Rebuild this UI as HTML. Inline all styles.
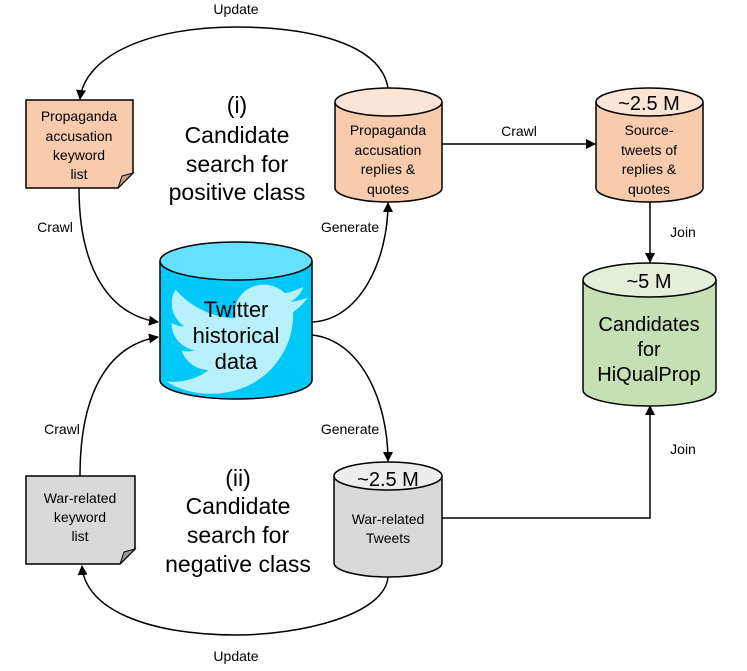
<!DOCTYPE html>
<html><head><meta charset="utf-8"><style>
html,body{margin:0;padding:0;background:#fff;}
svg{display:block;font-family:"Liberation Sans",Arial,sans-serif;}
</style></head><body>
<svg width="747" height="671" viewBox="0 0 747 671" xmlns="http://www.w3.org/2000/svg">
<defs>
<marker id="a" markerWidth="10" markerHeight="10" refX="9" refY="5" orient="auto" markerUnits="userSpaceOnUse">
<path d="M0,0 L10,5 L0,10 z" fill="#000"/></marker>
</defs>
<g fill="none" stroke="#000" stroke-width="1.5">
<path d="M388,88 C380,40 300,27 236,27 C150,27 85,55 80,99" marker-end="url(#a)"/>
<path d="M79,188 C79,270 110,315 158,322" marker-end="url(#a)"/>
<path d="M80,476 C80,390 110,345 158,337" marker-end="url(#a)"/>
<path d="M312,322 C360,320 388,260 388,203" marker-end="url(#a)"/>
<path d="M312,335 C360,340 388,400 388,461" marker-end="url(#a)"/>
<path d="M442,144 L595,144" marker-end="url(#a)"/>
<path d="M650,202 L650,262" marker-end="url(#a)"/>
<path d="M442,518 L650,518 L650,406" marker-end="url(#a)"/>
<path d="M388,577 C385,615 300,635 236,635 C150,635 85,610 82,566" marker-end="url(#a)"/>
</g>

<path d="M26,100 L133,100 L133,173 L118,188 L26,188 Z" fill="#f8cbad" stroke="#000" stroke-width="1.5"/>
<path d="M133,173 L122,176 L118,188 Z" fill="#c9a088" stroke="#000" stroke-width="1"/>
<g font-size="14" text-anchor="middle" fill="#000">
<text x="79" y="121">Propaganda</text><text x="79" y="141">accusation</text><text x="79" y="160">keyword</text><text x="79" y="179">list</text>
</g>

<path d="M26,476 L135,476 L135,549 L120,564 L26,564 Z" fill="#d9d9d9" stroke="#000" stroke-width="1.5"/>
<path d="M135,549 L124,552 L120,564 Z" fill="#9a9a9a" stroke="#000" stroke-width="1"/>
<g font-size="14" text-anchor="middle" fill="#000">
<text x="80" y="503">War-related</text><text x="80" y="522">keyword</text><text x="80" y="541">list</text>
</g>

<path d="M335,102 L335,188 A53.5,14 0 0 0 442,188 L442,102" fill="#f8cbad" stroke="#000" stroke-width="1.5"/>
<ellipse cx="388.5" cy="102" rx="53.5" ry="14" fill="#fce4d6" stroke="#000" stroke-width="1.5"/>
<g font-size="14" text-anchor="middle">
<text x="388" y="135">Propaganda</text><text x="388" y="155">accusation</text><text x="388" y="174">replies &amp;</text><text x="388" y="194">quotes</text>
</g>

<path d="M596,102 L596,188 A53.5,14 0 0 0 703,188 L703,102" fill="#f8cbad" stroke="#000" stroke-width="1.5"/>
<ellipse cx="649.5" cy="102" rx="53.5" ry="14" fill="#fce4d6" stroke="#000" stroke-width="1.5"/>
<g text-anchor="middle">
<text x="649" y="110" font-size="20">~2.5 M</text>
<g font-size="14"><text x="649" y="135">Source-</text><text x="649" y="155">tweets of</text><text x="649" y="174">replies &amp;</text><text x="649" y="194">quotes</text></g>
</g>

<path d="M583,280 L583,390 A66.5,16 0 0 0 716,390 L716,280" fill="#c5e0b4" stroke="#000" stroke-width="1.5"/>
<ellipse cx="649.5" cy="280" rx="66.5" ry="17" fill="#e2f0d9" stroke="#000" stroke-width="1.5"/>
<g text-anchor="middle" font-size="20">
<text x="649" y="288">~5 M</text>
<text x="649" y="331">Candidates</text><text x="649" y="356">for</text><text x="649" y="381">HiQualProp</text>
</g>

<path d="M334,476 L334,563 A54,14 0 0 0 442,563 L442,476" fill="#d9d9d9" stroke="#000" stroke-width="1.5"/>
<ellipse cx="388" cy="476" rx="54" ry="14" fill="#ededed" stroke="#000" stroke-width="1.5"/>
<g text-anchor="middle">
<text x="388" y="486" font-size="20">~2.5 M</text>
<g font-size="14"><text x="388" y="524">War-related</text><text x="388" y="543">Tweets</text></g>
</g>

<path d="M160,261 L160,380 A76,19 0 0 0 312,380 L312,261" fill="#00c8f8" stroke="#000" stroke-width="1.5"/>
<path transform="translate(166,272) scale(5.9,5.6)" fill="#b8f0fb" d="M23.954 4.569c-.885.389-1.83.654-2.825.775 1.014-.611 1.794-1.574 2.163-2.723-.951.555-2.005.959-3.127 1.184-.896-.959-2.173-1.559-3.591-1.559-2.717 0-4.92 2.203-4.920 4.917 0 .39.045.765.127 1.124C7.691 8.094 4.066 6.13 1.64 3.161c-.427.722-.666 1.561-.666 2.475 0 1.71.87 3.213 2.188 4.096-.807-.026-1.566-.248-2.228-.616v.061c0 2.385 1.693 4.374 3.946 4.827-.413.111-.849.171-1.296.171-.314 0-.615-.03-.916-.086.631 1.953 2.445 3.377 4.604 3.417-1.68 1.319-3.809 2.105-6.102 2.105-.39 0-.779-.023-1.17-.067 2.189 1.394 4.768 2.209 7.557 2.209 9.054 0 13.999-7.496 13.999-13.986 0-.209 0-.42-.015-.63.961-.689 1.8-1.56 2.46-2.548l-.047-.02z"/>
<ellipse cx="236" cy="261" rx="76" ry="19" fill="#66e0ff" stroke="#000" stroke-width="1.5"/>
<g text-anchor="middle" font-size="22">
<text x="236" y="317">Twitter</text><text x="236" y="343">historical</text><text x="236" y="369">data</text>
</g>

<g text-anchor="middle" font-size="23">
<text x="237" y="113">(i)</text>
<text x="237" y="143">Candidate</text><text x="237" y="172">search for</text><text x="237" y="200">positive class</text>
<text x="238" y="486">(ii)</text>
<text x="238" y="514">Candidate</text><text x="238" y="543">search for</text><text x="238" y="572">negative class</text>
</g>

<g font-size="14" text-anchor="middle">
<text x="236" y="14">Update</text>
<text x="236" y="661">Update</text>
<text x="55" y="232">Crawl</text>
<text x="62" y="434">Crawl</text>
<text x="350" y="232">Generate</text>
<text x="350" y="434">Generate</text>
<text x="519" y="136">Crawl</text>
<text x="683" y="237">Join</text>
<text x="683" y="454">Join</text>
</g>
</svg>
</body></html>
